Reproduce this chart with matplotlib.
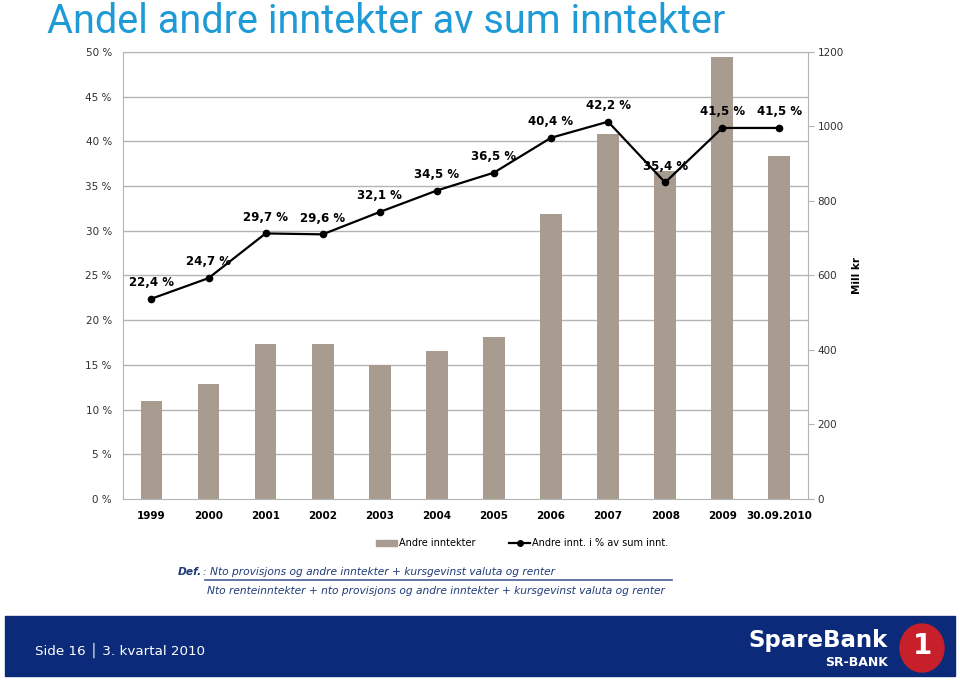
import numpy as np
import matplotlib.pyplot as plt
from matplotlib.patches import Rectangle, Ellipse
from matplotlib.lines import Line2D

# data
years = ['1999', '2000', '2001', '2002', '2003', '2004', '2005', '2006',
         '2007', '2008', '2009', '30.09.2010']
andre_inntekter = [263, 309, 416, 416, 360, 397, 435, 765, 980, 880, 1187, 921]
andel_pct = [22.4, 24.7, 29.7, 29.6, 32.1, 34.5, 36.5, 40.4, 42.2, 35.4, 41.5, 41.5]
pct_ticks = [0, 5, 10, 15, 20, 25, 30, 35, 40, 45, 50]
mill_ticks = [0, 200, 400, 600, 800, 1000, 1200]

bar_color = '#a89c90'
grid_color = '#b4b4b4'
navy = '#0b2a7a'

fig = plt.figure(figsize=(9.6, 6.81), dpi=100)

# bars on the base axes (right scale), line on a twin axes (left scale)
ax = fig.add_axes([0.128, 0.2673, 0.7135, 0.6564])
ax2 = ax.twinx()
x = np.arange(len(years))
for p in pct_ticks[1:]:
    ax.axhline(p * 1200 / 50, color=grid_color, lw=1.0, zorder=0)
ax.bar(x, andre_inntekter, width=0.38, color=bar_color, zorder=2)
ax.set_ylim(0, 1200)
ax.set_xlim(-0.5, len(years) - 0.5)
ax.yaxis.tick_right()
ax.yaxis.set_label_position('right')
ax.set_yticks(mill_ticks)
ax.set_yticklabels([str(v) for v in mill_ticks], fontsize=7.5, color='#303030')
ax.tick_params(axis='y', length=4, color=grid_color, pad=3)
ax.set_xticks(x)
ax.set_xticklabels(years, fontsize=7.5, fontweight='bold')
ax.tick_params(axis='x', length=0, pad=9)
for s in ax.spines.values():
    s.set_color(grid_color)
ax.set_ylabel('Mill kr', fontsize=7.5, fontweight='bold', labelpad=6)

ax2.plot(x, andel_pct, color='black', lw=1.6, marker='o', markersize=4.5, zorder=3)
for xi, v in zip(x, andel_pct):
    ax2.annotate(f'{v:.1f} %'.replace('.', ','), (xi, v), xytext=(0, 7),
                 textcoords='offset points', ha='center', va='bottom',
                 fontsize=8.5, fontweight='bold')
ax2.set_ylim(0, 50)
ax2.yaxis.tick_left()
ax2.yaxis.set_label_position('left')
ax2.set_yticks(pct_ticks)
ax2.set_yticklabels([f'{p} %' for p in pct_ticks], fontsize=7.5, color='#303030')
ax2.tick_params(axis='y', length=0, pad=8)
for s in ax2.spines.values():
    s.set_visible(False)

# legend
handles = [Rectangle((0, 0), 1, 1, color=bar_color),
           Line2D([0], [0], color='black', lw=1.6, marker='o', markersize=4)]
fig.legend(handles, ['Andre inntekter', 'Andre innt. i % av sum innt.'],
           loc='center', bbox_to_anchor=(0.544, 0.2025), ncol=2, frameon=False,
           fontsize=7, handlelength=2.2, handleheight=0.6, columnspacing=3.4,
           handletextpad=0.2)

# title
fig.text(0.049, 1 - 33 / 681, 'Andel andre inntekter av sum inntekter', fontsize=28.5,
         color='#1e9ad6', va='baseline', ha='left', family='Roboto')

# definition
def_color = '#1f3a78'
fig.text(0.1855, 0.1605, 'Def.', fontsize=7.7, fontweight='bold', style='italic',
         color=def_color, va='center')
fig.text(0.2115, 0.1605, ': Nto provisjons og andre inntekter + kursgevinst valuta og renter',
         fontsize=7.7, style='italic', color=def_color, va='center')
fig.add_artist(Line2D([205 / 960, 672 / 960], [1 - 580 / 681, 1 - 580 / 681],
                      color='#4a5f96', lw=1.2, transform=fig.transFigure))
fig.text(0.2155, 0.1325,
         'Nto renteinntekter + nto provisjons og andre inntekter + kursgevinst valuta og renter',
         fontsize=7.7, style='italic', color=def_color, va='center')

# footer banner
fig.add_artist(Rectangle((5 / 960, 1 - 676 / 681), 950 / 960, 60 / 681,
                         color=navy, transform=fig.transFigure, zorder=0))
fig.text(35 / 960, 1 - 650 / 681, 'Side 16 \u2502 3. kvartal 2010', fontsize=9.7,
         color='white', va='center')
fig.text(888 / 960, 1 - 640 / 681, 'SpareBank', fontsize=16.5, fontweight='bold',
         color='white', va='center', ha='right')
fig.text(888 / 960, 1 - 663 / 681, 'SR-BANK', fontsize=9, fontweight='bold',
         color='white', va='center', ha='right')
fig.add_artist(Ellipse((922 / 960, 1 - 648 / 681), 44 / 960, 48 / 681,
                       color='#c8202a', transform=fig.transFigure))
fig.text(922 / 960, 1 - 646 / 681, '1', fontsize=20, fontweight='bold',
         color='white', va='center', ha='center')

fig.savefig('out.png', dpi=100)
